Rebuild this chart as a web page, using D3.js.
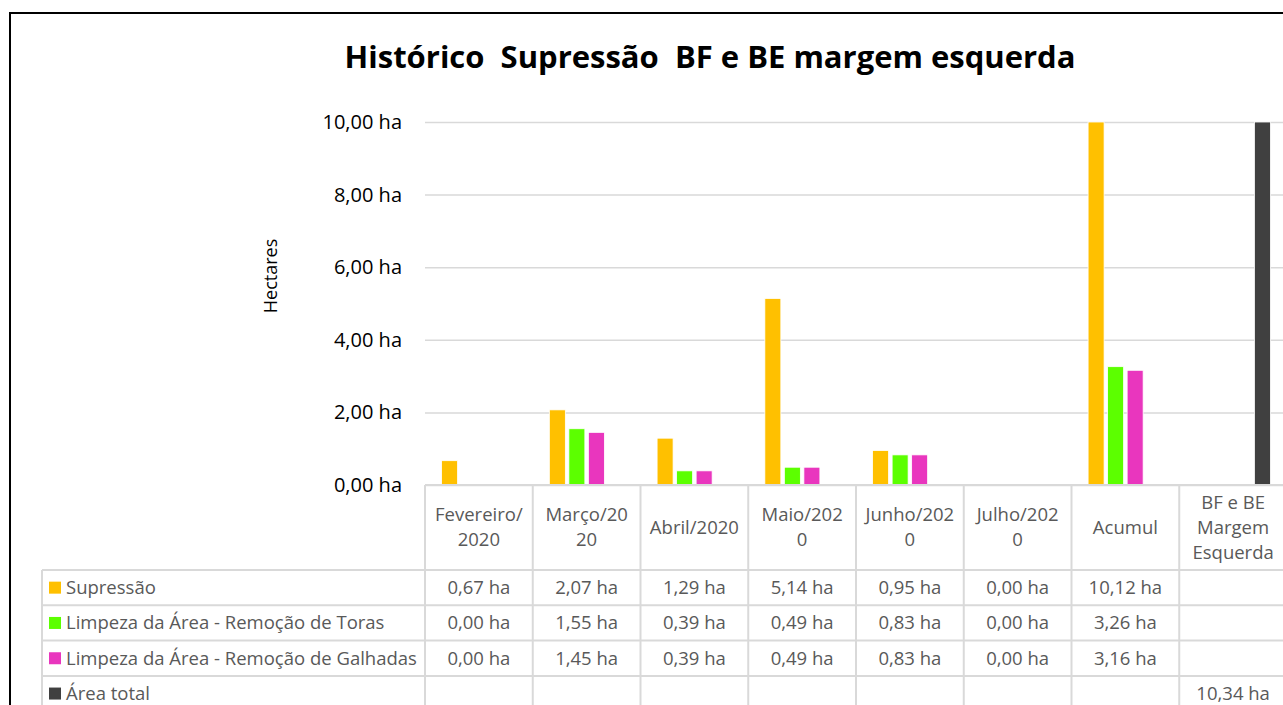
<!DOCTYPE html>
<html>
<head>
<meta charset="utf-8">
<script src="https://cdn.jsdelivr.net/npm/d3@7"></script>
<style>
  body { margin: 0; background: #fff; overflow: hidden; }
  text { font-family: "Open Sans", sans-serif; }
</style>
</head>
<body>
<div id="chart"></div>
<script>
// categories (column headers, already wrapped the way excel does it)
var categories = ["Fev", "Mar", "Abr", "Mai", "Jun", "Jul", "Acumul", "BFBE"];
var headerLines = [
    ["Fevereiro/", "2020"],
    ["Março/20", "20"],
    ["Abril/2020"],
    ["Maio/202", "0"],
    ["Junho/202", "0"],
    ["Julho/202", "0"],
    ["Acumul"],
    ["BF e BE", "Margem", "Esquerda"]
];

// series
var seriesNames = ["Supressão", "Limpeza da Área - Remoção de Toras", "Limpeza da Área - Remoção de Galhadas", "Área total"];
var supressao = [0.67, 2.07, 1.29, 5.14, 0.95, 0.00, 10.12, null];
var toras     = [0.00, 1.55, 0.39, 0.49, 0.83, 0.00, 3.26, null];
var galhadas  = [0.00, 1.45, 0.39, 0.49, 0.83, 0.00, 3.16, null];
var areaTotal = [null, null, null, null, null, null, null, 10.34];
var seriesColors = ["#FFC000", "#5CFF00", "#E936BE", "#404040"];

var yTicks = [0, 2, 4, 6, 8, 10];

function renderChart() {
    var width = 1283, height = 705;
    var allSeries = [supressao, toras, galhadas, areaTotal];

    var svg = d3.select("#chart")
        .append("svg")
        .attr("width", width)
        .attr("height", height);

    // chart frame (runs off the right and bottom of the picture)
    svg.append("rect")
        .attr("x", 10).attr("y", 13)
        .attr("width", 1500).attr("height", 800)
        .attr("fill", "none")
        .attr("stroke", "#000")
        .attr("stroke-width", 2);

    var plot = { left: 425, right: 1287, top: 122, bottom: 485 };
    var rowsTop = 570, rowH = 35.3, tableLeft = 42;

    var x = d3.scaleBand()
        .domain(categories)
        .range([plot.left, plot.right])
        .padding(0);

    var x1 = d3.scaleBand()
        .domain(d3.range(seriesNames.length))
        .range([0, x.bandwidth()])
        .paddingInner(0.18)
        .paddingOuter(0.85);

    var y = d3.scaleLinear()
        .domain([0, 10])
        .range([plot.bottom, plot.top])
        .clamp(true);

    // title
    svg.append("text")
        .attr("x", 710).attr("y", 68)
        .attr("text-anchor", "middle")
        .style("font-size", "31px")
        .style("font-weight", "bold")
        .style("white-space", "pre")
        .attr("fill", "#000")
        .text("Histórico  Supressão  BF e BE margem esquerda");

    // gridlines + y axis labels
    var fmt = d => d3.format(".2f")(d).replace(".", ",") + " ha";
    var yAxis = d3.axisLeft(y)
        .tickValues(yTicks)
        .tickSize(-(plot.right - plot.left))
        .tickPadding(23)
        .tickFormat(fmt);
    var ya = svg.append("g")
        .attr("transform", `translate(${plot.left},0)`)
        .call(yAxis);
    ya.select(".domain").remove();
    ya.selectAll(".tick line").attr("stroke", "#d9d9d9").attr("stroke-width", 1.5);
    ya.selectAll(".tick text")
        .style("font-size", "20px")
        .attr("fill", "#000");

    // y axis title
    svg.append("text")
        .attr("transform", "translate(277,276) rotate(-90)")
        .attr("text-anchor", "middle")
        .style("font-size", "18px")
        .attr("fill", "#000")
        .text("Hectares");

    // bars
    allSeries.forEach(function (values, si) {
        svg.append("g")
            .selectAll("rect")
            .data(values.map((v, i) => ({ cat: categories[i], v: v })).filter(d => d.v != null))
            .join("rect")
            .attr("x", d => x(d.cat) + x1(si))
            .attr("width", x1.bandwidth())
            .attr("y", d => y(d.v))
            .attr("height", d => y(0) - y(d.v))
            .attr("fill", seriesColors[si])
            .attr("stroke", "#fff")
            .attr("stroke-width", 0.8);
    });

    // data table
    var gridColor = "#d9d9d9";
    var tableBottom = 720;
    var t = svg.append("g");

    // vertical lines of the table
    var bounds = categories.map(c => x(c)).concat([plot.right]);
    t.selectAll("line.v")
        .data(bounds)
        .join("line")
        .attr("x1", d => d).attr("x2", d => d)
        .attr("y1", plot.bottom).attr("y2", tableBottom)
        .attr("stroke", gridColor).attr("stroke-width", 2);
    t.append("line")
        .attr("x1", tableLeft).attr("x2", tableLeft)
        .attr("y1", rowsTop).attr("y2", tableBottom)
        .attr("stroke", gridColor).attr("stroke-width", 2);

    // horizontal lines
    t.append("line")
        .attr("x1", plot.left).attr("x2", plot.right)
        .attr("y1", plot.bottom).attr("y2", plot.bottom)
        .attr("stroke", gridColor).attr("stroke-width", 2);
    t.selectAll("line.h")
        .data(d3.range(seriesNames.length))
        .join("line")
        .attr("x1", tableLeft).attr("x2", plot.right)
        .attr("y1", d => rowsTop + d * rowH).attr("y2", d => rowsTop + d * rowH)
        .attr("stroke", gridColor).attr("stroke-width", 2);

    var textColor = "#595959";
    var tableFont = "18.5px";

    // header labels
    headerLines.forEach(function (lines, i) {
        var cx = x(categories[i]) + x.bandwidth() / 2;
        var lh = 25;
        var cy = (plot.bottom + rowsTop) / 2;
        var y0 = cy - (lines.length - 1) * lh / 2;
        var tx = t.append("text")
            .attr("text-anchor", "middle")
            .attr("fill", textColor)
            .style("font-size", tableFont);
        lines.forEach(function (line, li) {
            tx.append("tspan")
                .attr("x", cx)
                .attr("y", y0 + li * lh)
                .attr("dy", "0.35em")
                .text(line);
        });
    });

    // legend keys + series names
    seriesNames.forEach(function (name, si) {
        var cy = rowsTop + si * rowH + rowH / 2;
        t.append("rect")
            .attr("x", 49).attr("y", cy - 6)
            .attr("width", 12).attr("height", 12)
            .attr("fill", seriesColors[si]);
        t.append("text")
            .attr("x", 66).attr("y", cy)
            .attr("dy", "0.35em")
            .attr("fill", textColor)
            .style("font-size", tableFont)
            .text(name);

        // values
        allSeries[si].forEach(function (v, i) {
            if (v == null) return;
            t.append("text")
                .attr("x", x(categories[i]) + x.bandwidth() / 2)
                .attr("y", cy)
                .attr("dy", "0.35em")
                .attr("text-anchor", "middle")
                .attr("fill", textColor)
                .style("font-size", tableFont)
                .text(fmt(v));
        });
    });
}

document.addEventListener("DOMContentLoaded", function () {
    renderChart();
});
</script>
</body>
</html>
